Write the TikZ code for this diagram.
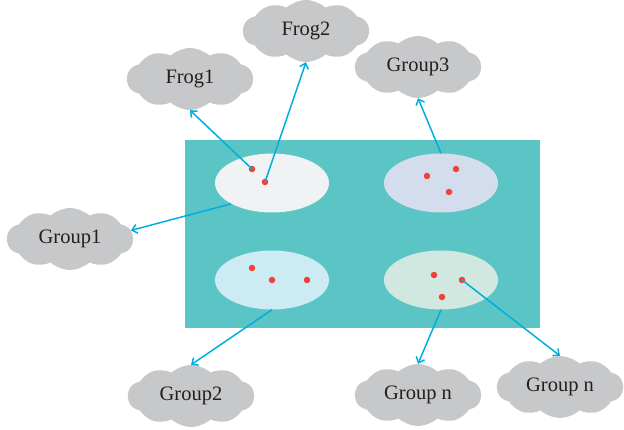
\documentclass[tikz,border=0pt]{standalone}
\usepackage{fontspec}
\setmainfont{Liberation Serif}
\usetikzlibrary{shapes.symbols,shapes.geometric,arrows.meta}
\definecolor{tealbg}{HTML}{5BC5C6}
\definecolor{cloudgray}{HTML}{C7C8CA}
\definecolor{textdark}{HTML}{231F20}
\definecolor{dotred}{HTML}{EF4136}
\definecolor{linkblue}{HTML}{00AEDF}
\definecolor{eA}{HTML}{F1F2F4}
\definecolor{eB}{HTML}{D4DDED}
\definecolor{eC}{HTML}{CDEBF4}
\definecolor{eD}{HTML}{D0E8DF}
\begin{document}
\begin{tikzpicture}[x=1pt,y=-1pt,
  cloudnode/.style={cloud, cloud puffs=10, cloud puff arc=85, aspect=2, fill=cloudgray, draw=none,
    minimum width=126pt, minimum height=62pt, inner sep=0pt, font=\fontsize{20.5}{24}\selectfont, text=textdark},
  groupell/.style={ellipse, minimum width=114pt, minimum height=59pt, inner sep=0pt, draw=none},
  frogdot/.style={circle, fill=dotred, minimum size=6.5pt, inner sep=0pt},
  link/.style={draw=linkblue, line width=1.5pt, -{Straight Barb[length=5pt,width=9pt]}}]
\useasboundingbox (0,0) rectangle (624,430);
\node[fill=tealbg, minimum width=355pt, minimum height=188pt, inner sep=0pt, draw=none] (pond) at (362.5,234) {};
\node[groupell, fill=eA] (e1) at (272,183) {};
\node[groupell, fill=eB] (e2) at (441,183) {};
\node[groupell, fill=eC] (e3) at (272,280) {};
\node[groupell, fill=eD] (e4) at (441,280) {};
% dots
\node[frogdot] (a1) at (252,169) {};
\node[frogdot] (a2) at (265,182) {};
\node[frogdot] (b1) at (427,176) {};
\node[frogdot] (b2) at (456,169) {};
\node[frogdot] (b3) at (449,192) {};
\node[frogdot] (c1) at (252,268) {};
\node[frogdot] (c2) at (272,280) {};
\node[frogdot] (c3) at (307,280) {};
\node[frogdot] (d1) at (434,275) {};
\node[frogdot] (d2) at (462,280) {};
\node[frogdot] (d3) at (442,297) {};
% clouds
\node[cloudnode] (frog1) at (190,79) {Frog1};
\node[cloudnode] (frog2) at (306,31) {Frog2};
\node[cloudnode] (grp3) at (418,67) {Group3};
\node[cloudnode] (grp1) at (70,239) {Group1};
\node[cloudnode] (grp2) at (191,396) {Group2};
\node[cloudnode] (grpn1) at (418,395) {Group n};
\node[cloudnode] (grpn2) at (560,387) {Group n};
% links
\draw[link] (a1.center) -- (frog1.south);
\draw[link] (a2.center) -- (frog2.south);
\draw[link] (e2.north) -- (grp3.south);
\draw[link] (e1.207) -- (grp1.8);
\draw[link] (e3.south) -- (grp2.north);
\draw[link] (e4.south) -- (grpn1.north);
\draw[link] (d2.center) -- (grpn2.north);
\end{tikzpicture}
\end{document}
